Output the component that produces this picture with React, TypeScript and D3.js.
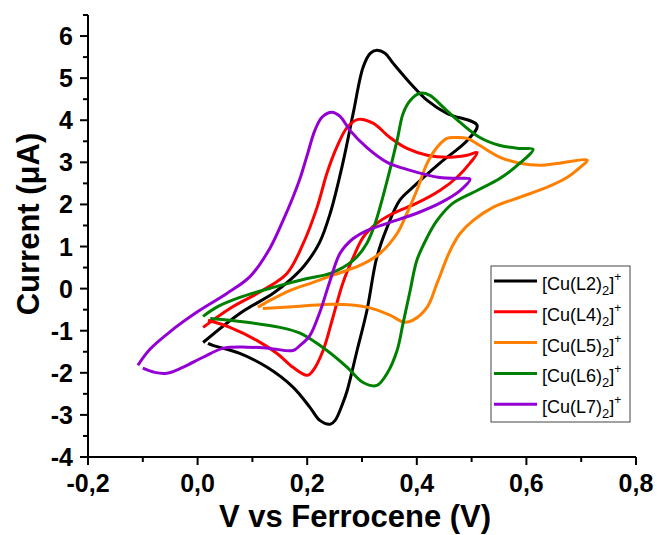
import React from "react";
import * as d3 from "d3";

const W = 657;
const H = 535;

const xTicks = [-0.2, 0.0, 0.2, 0.4, 0.6, 0.8];
const yTicks = [-4, -3, -2, -1, 0, 1, 2, 3, 4, 5, 6];

const seriesNames = ["L2", "L4", "L5", "L6", "L7"];
const seriesColors = ["#000000", "#ff0000", "#ff8000", "#008000", "#9400d3"];

// [Cu(L2)2]+
const l2V = [0.010, 0.077, 0.138, 0.170, 0.195, 0.222, 0.242, 0.265, 0.284, 0.302, 0.315, 0.327, 0.342, 0.357, 0.388, 0.419, 0.455, 0.510,
  0.492, 0.442, 0.393, 0.369, 0.346, 0.327, 0.309, 0.291, 0.273, 0.265, 0.251, 0.242, 0.223, 0.205, 0.174, 0.127, 0.077, 0.028, 0.019];
const l2I = [-1.28, -0.59, -0.11, 0.22, 0.55, 1.08, 1.79, 2.98, 4.17, 5.26, 5.59, 5.66, 5.59, 5.35, 4.88, 4.47, 4.16, 3.88,
  3.52, 2.98, 2.41, 2.10, 1.46, 0.74, -0.52, -1.47, -2.42, -2.72, -3.13, -3.22, -3.13, -2.82, -2.34, -1.87, -1.54, -1.35, -1.30];

// [Cu(L4)2]+
const l4V = [0.010, 0.059, 0.119, 0.163, 0.192, 0.218, 0.236, 0.254, 0.273, 0.293, 0.320, 0.351, 0.382, 0.419, 0.455, 0.492, 0.510,
  0.497, 0.473, 0.442, 0.400, 0.357, 0.327, 0.302, 0.284, 0.265, 0.247, 0.229, 0.211, 0.200, 0.174, 0.145, 0.108, 0.059, 0.019];
const l4I = [-0.92, -0.47, -0.04, 0.36, 1.05, 1.93, 2.74, 3.36, 3.83, 4.02, 3.93, 3.59, 3.33, 3.17, 3.12, 3.17, 3.23,
  2.98, 2.64, 2.33, 2.03, 1.79, 1.55, 1.22, 0.74, 0.13, -0.68, -1.47, -1.94, -2.06, -1.87, -1.54, -1.23, -0.92, -0.75];

// [Cu(L5)2]+
const l5V = [0.110, 0.132, 0.169, 0.211, 0.247, 0.296, 0.333, 0.364, 0.382, 0.400, 0.419, 0.437, 0.455, 0.470, 0.492, 0.515, 0.552, 0.588, 0.625, 0.661, 0.711,
  0.698, 0.674, 0.638, 0.588, 0.539, 0.503, 0.479, 0.461, 0.437, 0.419, 0.393, 0.377, 0.351, 0.309, 0.247, 0.187, 0.119];
const l5I = [-0.44, -0.28, -0.04, 0.15, 0.32, 0.55, 0.84, 1.31, 1.79, 2.33, 2.98, 3.36, 3.57, 3.59, 3.57, 3.40, 3.12, 2.98, 2.93, 2.98, 3.05,
  2.88, 2.64, 2.41, 2.17, 1.93, 1.62, 1.31, 0.91, 0.13, -0.44, -0.75, -0.80, -0.63, -0.44, -0.37, -0.42, -0.47];

// [Cu(L6)2]+
const l6V = [0.010, 0.035, 0.077, 0.138, 0.200, 0.242, 0.284, 0.309, 0.324, 0.346, 0.364, 0.375, 0.388, 0.406, 0.424, 0.448, 0.479, 0.515, 0.552, 0.588, 0.612,
  0.588, 0.552, 0.510, 0.466, 0.437, 0.419, 0.400, 0.388, 0.375, 0.364, 0.346, 0.327, 0.302, 0.273, 0.236, 0.187, 0.150, 0.090, 0.023];
const l6I = [-0.66, -0.44, -0.21, 0.03, 0.24, 0.36, 0.67, 1.08, 1.55, 2.57, 3.52, 4.16, 4.47, 4.64, 4.59, 4.31, 3.95, 3.59, 3.40, 3.33, 3.31,
  2.98, 2.62, 2.33, 2.03, 1.62, 1.22, 0.67, -0.04, -0.82, -1.47, -2.01, -2.30, -2.23, -1.87, -1.47, -1.06, -0.92, -0.80, -0.71];

// [Cu(L7)2]+
const l7V = [-0.109, -0.087, -0.049, 0.001, 0.054, 0.096, 0.132, 0.156, 0.174, 0.187, 0.200, 0.214, 0.227, 0.245, 0.260, 0.278, 0.309, 0.346, 0.388, 0.442, 0.479, 0.497,
  0.479, 0.442, 0.400, 0.346, 0.309, 0.284, 0.260, 0.242, 0.223, 0.205, 0.187, 0.174, 0.132, 0.090, 0.046, 0.010, -0.027, -0.056, -0.078, -0.100];
const l7I = [-1.82, -1.44, -1.01, -0.54, -0.11, 0.29, 0.96, 1.62, 2.17, 2.62, 3.17, 3.76, 4.07, 4.19, 4.09, 3.76, 3.35, 3.00, 2.81, 2.64, 2.62, 2.60,
  2.33, 2.03, 1.79, 1.55, 1.38, 1.19, 0.84, 0.20, -0.56, -1.11, -1.35, -1.47, -1.42, -1.39, -1.42, -1.63, -1.87, -2.01, -1.99, -1.89];

const seriesV = [l2V, l4V, l5V, l6V, l7V];
const seriesI = [l2I, l4I, l5I, l6I, l7I];

const FONT = "'Liberation Sans', Arial, Helvetica, sans-serif";

export default function App() {
  const x = d3.scaleLinear().domain([-0.2, 0.8]).range([88, 636]);
  const y = d3.scaleLinear().domain([-4, 6.5]).range([457, 15]);

  const line = d3
    .line<[number, number]>()
    .x((d) => x(d[0]))
    .y((d) => y(d[1]))
    .curve(d3.curveCatmullRom.alpha(0.5));

  const xMinor = d3.range(-0.2, 0.8001, 0.1);
  const yMinor = d3.range(-4, 6.5001, 0.5);
  const fmtX = (v: number) => v.toFixed(1).replace(".", ",").replace("-0,0", "0,0");

  const legX = 491;
  const legY = 266;
  const legRow = 30.8;

  return (
    <svg width={W} height={H} style={{ position: "absolute", left: 0, top: 0, background: "#fff" }} fontFamily={FONT}>
      {seriesV.map((vs, si) => (
        <path
          key={si}
          d={line(vs.map((v, i) => [v, seriesI[si][i]] as [number, number])) || ""}
          fill="none"
          stroke={seriesColors[si]}
          strokeWidth={3}
          strokeLinejoin="round"
          strokeLinecap="butt"
        />
      ))}

      <line x1={x(-0.2)} x2={x(-0.2)} y1={y(6.5)} y2={y(-4) + 1} stroke="#000" strokeWidth={2} />
      <line x1={x(-0.2) - 1} x2={x(0.8)} y1={y(-4)} y2={y(-4)} stroke="#000" strokeWidth={2} />

      {yMinor.map((v, i) => (
        <line key={"ym" + i} x1={x(-0.2) - (Math.abs(v - Math.round(v)) < 1e-6 ? 8 : 5)} x2={x(-0.2)} y1={y(v)} y2={y(v)} stroke="#000" strokeWidth={2} />
      ))}
      {xMinor.map((v, i) => (
        <line key={"xm" + i} x1={x(v)} x2={x(v)} y1={y(-4)} y2={y(-4) + (i % 2 === 0 ? 8 : 5)} stroke="#000" strokeWidth={2} />
      ))}

      {yTicks.map((v) => (
        <text key={"yt" + v} x={x(-0.2) - 15} y={y(v)} dy="0.36em" textAnchor="end" fontSize={25} fontWeight="bold" fill="#000">
          {String(v)}
        </text>
      ))}
      {xTicks.map((v) => (
        <text key={"xt" + v} x={x(v)} y={492} textAnchor="middle" fontSize={25} fontWeight="bold" fill="#000">
          {fmtX(v)}
        </text>
      ))}

      <text x={355} y={527} textAnchor="middle" fontSize={31} fontWeight="bold" fill="#000">
        V vs Ferrocene (V)
      </text>
      <text transform={`translate(39,224) rotate(-90)`} textAnchor="middle" fontSize={31} fontWeight="bold" fill="#000">
        Current (μA)
      </text>

      <rect x={legX} y={legY} width={139} height={156} fill="#fff" stroke="#444" strokeWidth={1} />
      {seriesNames.map((n, i) => {
        const cy = 281 + i * legRow;
        return (
          <g key={"lg" + n}>
            <line x1={494} x2={537} y1={cy} y2={cy} stroke={seriesColors[i]} strokeWidth={3} />
            <text x={542} y={cy + 9} fontSize={18} fill="#000">
              {`[Cu(${n})`}
              <tspan fontSize={13} dy={5}>2</tspan>
              <tspan dy={-5}>]</tspan>
              <tspan fontSize={12} dy={-9}>+</tspan>
            </text>
          </g>
        );
      })}
    </svg>
  );
}
